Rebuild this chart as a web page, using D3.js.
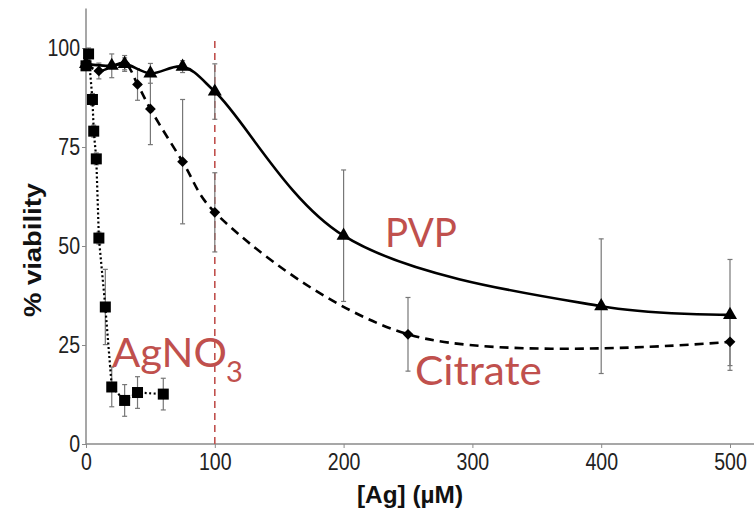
<!DOCTYPE html>
<html>
<head>
<meta charset="utf-8">
<script src="https://cdn.jsdelivr.net/npm/d3@7"></script>
<style>
  html, body { margin: 0; padding: 0; background: #fff; }
  svg { display: block; }
  .tick text { font-family: "Liberation Sans", Arial, sans-serif; fill: #222; transform-box: fill-box; }
  .xaxis .tick text { transform-origin: center; transform: scaleX(0.85); }
  .yaxis .tick text { transform-origin: right center; transform: scaleX(0.85); }
</style>
</head>
<body>
<svg id="chart" width="754" height="512"></svg>
<script>
// Ag concentration (µM) and % viability for each treatment
const agno3X   = [0, 2, 5, 6, 8, 10, 15, 20, 30, 40, 60];
const agno3Y   = [95.5, 98.5, 87, 79, 72, 52, 34.6, 14.4, 11, 13, 12.6];
const agno3Err = [1, 1.5, 1.5, 1.5, 1.5, 1.5, 9.5, 5, 4, 4, 4];

const citrateX   = [0, 10, 30, 40, 50, 75, 100, 250, 500];
const citrateY   = [96, 94.2, 96.1, 90.8, 84.6, 71.3, 58.5, 27.7, 25.8];
const citrateErr = [1.5, 2, 2, 4, 9, 15.7, 10, 9.3, 6];

const pvpX   = [0, 20, 30, 50, 75, 100, 200, 400, 500];
const pvpY   = [96, 95.5, 96, 93.6, 95.3, 89, 52.6, 34.8, 32.6];
const pvpErr = [1.5, 3, 1.5, 2.5, 1.5, 7, 16.6, 17, 14];

const xTicks = [0, 100, 200, 300, 400, 500];
const yTicks = [0, 25, 50, 75, 100];
const markerX = 100;   // reference concentration line

const svg = d3.select("#chart");
const x = d3.scaleLinear().domain([0, 500]).range([86, 730]);
const y = d3.scaleLinear().domain([0, 100]).range([444, 48]);
const axisGrey = "#8a8a8a";
const red = "#C0504D";

// axes
const gx = svg.append("g").attr("class", "xaxis")
  .attr("transform", `translate(0,${y(0)})`)
  .call(d3.axisBottom(x).tickValues(xTicks).tickSize(4).tickPadding(6).tickSizeOuter(0));
gx.select(".domain").remove();
gx.selectAll(".tick line").attr("stroke", axisGrey);
gx.selectAll(".tick text").style("font-size", "23px");

const gy = svg.append("g").attr("class", "yaxis")
  .attr("transform", `translate(${x(0)},0)`)
  .call(d3.axisLeft(y).tickValues(yTicks).tickSize(4).tickPadding(2).tickSizeOuter(0));
gy.select(".domain").remove();
gy.selectAll(".tick line").attr("stroke", axisGrey);
gy.selectAll(".tick text").style("font-size", "23px");

svg.append("line")
  .attr("x1", x(0)).attr("x2", x(519)).attr("y1", y(0)).attr("y2", y(0))
  .attr("stroke", axisGrey).attr("stroke-width", 1.5);
svg.append("line")
  .attr("x1", x(0)).attr("x2", x(0)).attr("y1", y(0)).attr("y2", y(110))
  .attr("stroke", axisGrey).attr("stroke-width", 1.5);

// axis titles
svg.append("text")
  .attr("x", 410).attr("y", 503)
  .attr("text-anchor", "middle")
  .attr("font-family", "Liberation Sans, Arial, sans-serif")
  .attr("font-weight", "bold").attr("font-size", 24).attr("fill", "#111")
  .attr("textLength", 106).attr("lengthAdjust", "spacingAndGlyphs")
  .text("[Ag] (µM)");
svg.append("text")
  .attr("transform", "translate(41,250) rotate(-90)")
  .attr("text-anchor", "middle")
  .attr("font-family", "Liberation Sans, Arial, sans-serif")
  .attr("font-weight", "bold").attr("font-size", 24).attr("fill", "#111")
  .attr("textLength", 134).attr("lengthAdjust", "spacingAndGlyphs")
  .text("% viability");

// reference line at 100 µM
svg.append("line")
  .attr("x1", x(markerX)).attr("x2", x(markerX))
  .attr("y1", y(0)).attr("y2", y(102))
  .attr("stroke", red).attr("stroke-width", 1.6).attr("stroke-dasharray", "7,5");

function series(xs, ys) { return xs.map((v, i) => [v, ys[i]]); }

function errorBars(xs, ys, es) {
  const g = svg.append("g").attr("stroke", "#777").attr("stroke-width", 1.2);
  xs.forEach((v, i) => {
    const cx = x(v), top = y(ys[i] + es[i]), bot = y(ys[i] - es[i]);
    g.append("line").attr("x1", cx).attr("x2", cx).attr("y1", top).attr("y2", bot);
    g.append("line").attr("x1", cx - 2.5).attr("x2", cx + 2.5).attr("y1", top).attr("y2", top);
    g.append("line").attr("x1", cx - 2.5).attr("x2", cx + 2.5).attr("y1", bot).attr("y2", bot);
  });
}

errorBars(pvpX, pvpY, pvpErr);
errorBars(citrateX, citrateY, citrateErr);
errorBars(agno3X, agno3Y, agno3Err);

const smooth = d3.line().x(d => x(d[0])).y(d => y(d[1])).curve(d3.curveCatmullRom.alpha(0.5));
const straight = d3.line().x(d => x(d[0])).y(d => y(d[1]));

svg.append("path").datum(series(pvpX, pvpY))
  .attr("d", smooth).attr("fill", "none").attr("stroke", "#000").attr("stroke-width", 2.6);
svg.append("path").datum(series(citrateX, citrateY))
  .attr("d", smooth).attr("fill", "none").attr("stroke", "#000").attr("stroke-width", 2.6)
  .attr("stroke-dasharray", "9,6");
svg.append("path").datum(series(agno3X, agno3Y))
  .attr("d", straight).attr("fill", "none").attr("stroke", "#000").attr("stroke-width", 2.2)
  .attr("stroke-dasharray", "2,2.5");

// markers
svg.append("g").selectAll("path").data(series(pvpX, pvpY)).join("path")
  .attr("transform", d => `translate(${x(d[0])},${y(d[1])})`)
  .attr("d", d3.symbol(d3.symbolTriangle, 85)).attr("fill", "#000");
svg.append("g").selectAll("path").data(series(citrateX, citrateY)).join("path")
  .attr("transform", d => `translate(${x(d[0])},${y(d[1])}) rotate(45)`)
  .attr("d", d3.symbol(d3.symbolSquare, 58)).attr("fill", "#000");
svg.append("g").selectAll("rect").data(series(agno3X, agno3Y)).join("rect")
  .attr("x", d => x(d[0]) - 5.5).attr("y", d => y(d[1]) - 5.5)
  .attr("width", 11).attr("height", 11).attr("fill", "#000");

// series labels
const labelFont = "Lato, 'Open Sans', sans-serif";
svg.append("text").attr("x", 385).attr("y", 247)
  .attr("font-family", labelFont).attr("font-size", 40).attr("fill", red)
  .attr("textLength", 72).attr("lengthAdjust", "spacingAndGlyphs").text("PVP");
svg.append("text").attr("x", 415).attr("y", 385)
  .attr("font-family", labelFont).attr("font-size", 40).attr("fill", red)
  .attr("textLength", 127).attr("lengthAdjust", "spacingAndGlyphs").text("Citrate");
const ag = svg.append("text").attr("x", 112).attr("y", 367)
  .attr("font-family", labelFont).attr("font-size", 40).attr("fill", red);
ag.append("tspan").attr("textLength", 115).attr("lengthAdjust", "spacingAndGlyphs").text("AgNO");
ag.append("tspan").attr("x", 226).attr("y", 382).attr("font-size", 29).text("3");
</script>
</body>
</html>
